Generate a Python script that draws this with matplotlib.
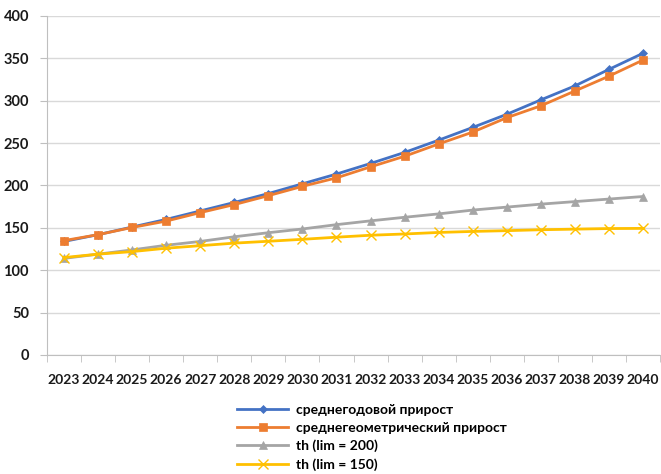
import numpy as np
import matplotlib
matplotlib.use('Agg')
import matplotlib.pyplot as plt

plt.rcParams['font.family'] = ['Lato', 'DejaVu Sans']

# years and the four forecasts
years = [str(y) for y in range(2023, 2041)]
avg_growth = [134, 142, 151, 160, 170, 180, 190.5, 202, 213.5, 226, 239, 253.5, 268.5, 284, 301, 317.5, 337, 356]
geo_growth = [135, 142, 150.5, 158, 168, 177.5, 188, 199, 209, 222, 234.5, 249, 263, 280, 294, 311.5, 329, 348]
th_200 = [114, 119, 124, 129.5, 134, 139.5, 144.3, 148.7, 153.8, 158.3, 162.5, 166.5, 171, 174.5, 178, 181, 184, 187]
th_150 = [115, 119, 122, 126, 129, 132, 134.2, 136.5, 139, 141.3, 142.8, 144.6, 145.8, 146.7, 147.8, 148.5, 149.2, 149.4]

labels = ['среднегодовой прирост', 'среднегеометрический прирост', 'th (lim = 200)', 'th (lim = 150)']
colors = ['#4472C4', '#ED7D31', '#A5A5A5', '#FFC000']
markers = ['D', 's', '^', 'x']
msizes = [4, 6, 6, 7]

fig = plt.figure(figsize=(6.61, 4.74), dpi=100)
ax = fig.add_axes([47 / 661, 1 - 355 / 474, (660 - 47) / 661, (355 - 16) / 474])

x = np.arange(len(years))
for vals, lab, c, m, ms in zip([avg_growth, geo_growth, th_200, th_150], labels, colors, markers, msizes):
    ax.plot(x, vals, color=c, lw=2, marker=m, ms=ms, mew=1 if m == 'x' else 0.5, label=lab, zorder=3)

ax.set_xlim(-0.5, len(years) - 0.5)
ax.set_ylim(0, 400)
ax.set_yticks(np.arange(0, 401, 50))
ax.grid(True, axis='y', color='#D9D9D9', lw=1)
ax.set_axisbelow(True)

ax.set_xticks(x)
ax.set_xticklabels(years)
ax.set_xticks(np.arange(-0.5, len(years)), minor=True)
ax.tick_params(axis='x', which='major', length=0, pad=14, labelsize=10)
ax.tick_params(axis='x', which='minor', length=5, color='#BFBFBF', direction='out')
ax.tick_params(axis='y', length=5, color='#BFBFBF', pad=8, labelsize=10.5)
for t in ax.get_xticklabels() + ax.get_yticklabels():
    t.set_fontweight('bold')
    t.set_color('#1a1a1a')

for side in ['top', 'right']:
    ax.spines[side].set_visible(False)
for side in ['left', 'bottom']:
    ax.spines[side].set_color('#BFBFBF')

fig.legend(loc='upper left', bbox_to_anchor=(237 / 661, 1 - 404 / 474), frameon=False,
           prop={'weight': 'bold', 'size': 10}, handlelength=3.7, handletextpad=0.55,
           labelspacing=0.42, borderpad=0, borderaxespad=0)

fig.savefig('out.png', dpi=100)
